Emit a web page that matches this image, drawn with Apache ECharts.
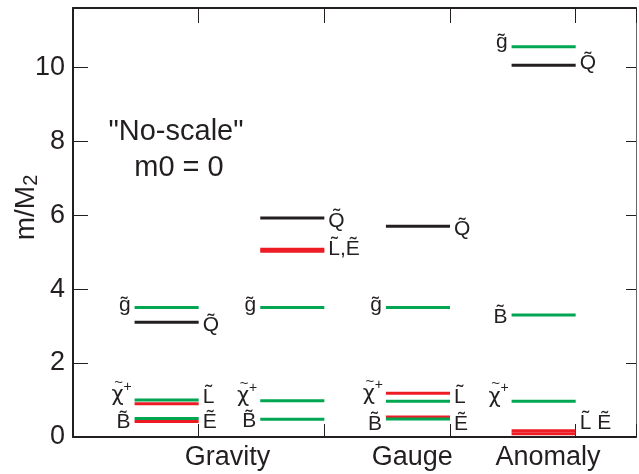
<!DOCTYPE html>
<html>
<head>
<meta charset="utf-8">
<script src="https://cdn.jsdelivr.net/npm/echarts@6/dist/echarts.min.js"></script>
<style>
  html, body { margin: 0; padding: 0; background: #fff; }
  #chart { width: 639px; height: 474px; }
</style>
</head>
<body>
<div id="chart"></div>
<script>
// Spectrum scenarios, each drawn as a column of short level lines ending at x = 1..4
const categories = ['Gravity', 'Gauge', 'Anomaly'];
const columnEnds = [1, 2, 3, 4];          // Gravity (two variants), Gauge, Anomaly
const levelLength = 0.51;                 // length of each level line in x units

// mass ratios m/M2 per column
const gluino   = [3.50, 3.50, 3.50, 10.55];   // g~
const squark   = [3.10, 5.92, 5.70, 10.05];   // Q~
const slepL    = [0.90, 5.08, 1.18, 0.17];    // L~
const slepE    = [0.42, 5.02, 0.54, 0.09];    // E~
const chargino = [1.00, 0.98, 0.97, 0.97];    // chi~+
const bino     = [0.50, 0.48, 0.49, 3.30];    // B~

const yTicks = [0, 2, 4, 6, 8, 10];
const categoryLabelAt = [1.23, 2.70, 3.78];

const GREEN = '#00a651', RED = '#ed1c24', BLACK = '#231f20';
const CHI = 'CHI';   // marker for the chargino symbol, drawn from separate glyphs

// label texts per column: [left label, right label]
const labelSet = {
  gluino:   [['g\u0303', ''], ['g\u0303', ''], ['g\u0303', ''], ['g\u0303', '']],
  squark:   [['', 'Q\u0303'], ['', 'Q\u0303'], ['', 'Q\u0303'], ['', 'Q\u0303']],
  slepL:    [['', 'L\u0303'], ['', 'L\u0303,\u1EBC'], [CHI, ''], ['', 'L\u0303 \u1EBC']],
  slepE:    [['B\u0303', '\u1EBC'], ['', ''], ['', ''], ['', '']],
  chargino: [[CHI, ''], [CHI, ''], ['', 'L\u0303'], [CHI, '']],
  bino:     [['', ''], ['B\u0303', ''], ['B\u0303', '\u1EBC'], ['B\u0303', '']]
};
// vertical nudges of the labels, px
const labelShift = {
  gluino: [-2, -2, -2, -5], squark: [3, 3, 3, -2],
  slepL: [-7, 0, 4, -8], slepE: [1, 0, 0, 0],
  chargino: [-1, -1, -4, -1], bino: [0, 2, 5, 2]
};

const levelGroups = [
  ['slepL', slepL, RED], ['slepE', slepE, RED],
  ['bino', bino, GREEN], ['chargino', chargino, GREEN],
  ['gluino', gluino, GREEN], ['squark', squark, BLACK]
];

const segments = [];
levelGroups.forEach(([name, values, color]) => {
  values.forEach((v, i) => {
    segments.push({
      x0: columnEnds[i] - levelLength, x1: columnEnds[i], y: v, color: color,
      left: labelSet[name][i][0], right: labelSet[name][i][1],
      shift: labelShift[name][i]
    });
  });
});

const TEXT_FONT = '"Liberation Sans", Arial, Helvetica, sans-serif';
const LABEL_FONT = '21px ' + TEXT_FONT;

function textEl(text, x, y, align, font) {
  return {
    type: 'text',
    style: { text: text, x: x, y: y, align: align, verticalAlign: 'middle', font: font, fill: BLACK }
  };
}

// chi with a tilde above and a superscript plus
function chiLabel(xRight, y) {
  const chiRight = xRight - 7;
  const chiCenter = chiRight - 6;
  return [
    textEl('+', xRight + 1, y - 12, 'right', '14px ' + TEXT_FONT),
    textEl('\u03C7', chiRight, y - 3, 'right', '21px "DejaVu Sans", ' + TEXT_FONT),
    textEl('~', chiCenter + 1, y - 16, 'center', '15px ' + TEXT_FONT)
  ];
}

const chart = echarts.init(document.getElementById('chart'), null, { renderer: 'canvas' });

const axisLine = { show: true, onZero: false, lineStyle: { color: BLACK, width: 2 } };
const option = {
  animation: false,
  backgroundColor: '#fff',
  grid: { left: 73, right: 3, top: 8, bottom: 37, outerBoundsMode: 'none', containLabel: false },
  xAxis: [
    {
      type: 'value', position: 'bottom', min: 0, max: 4.48, interval: 1,
      axisLine: axisLine,
      axisTick: { inside: true, length: 13, lineStyle: { color: BLACK, width: 1 } },
      axisLabel: { show: false }, splitLine: { show: false }
    },
    {
      type: 'value', position: 'top', min: 0, max: 4.48, interval: 1,
      axisLine: axisLine,
      axisTick: { inside: true, length: 15, lineStyle: { color: BLACK, width: 1 } },
      axisLabel: { show: false }, splitLine: { show: false }
    }
  ],
  yAxis: [
    {
      type: 'value', position: 'left', min: 0, max: 11.6, interval: 2,
      axisLine: axisLine,
      axisTick: { inside: true, length: 15, lineStyle: { color: BLACK, width: 1 } },
      axisLabel: {
        color: BLACK, fontFamily: TEXT_FONT, fontSize: 27, margin: 8,
        showMaxLabel: false,
        formatter: v => (yTicks.indexOf(v) >= 0 ? String(v) : '')
      },
      splitLine: { show: false },
      name: '{m|m/M}{s|2}', nameLocation: 'middle', nameGap: 32, nameRotate: 90,
      nameMoveOverlap: false,
      nameTextStyle: {
        padding: [0, 0, 0, 30],
        rich: {
          m: { fontFamily: TEXT_FONT, fontSize: 28, color: BLACK },
          s: { fontFamily: TEXT_FONT, fontSize: 20, color: BLACK, verticalAlign: 'bottom', padding: [10, 0, 0, 0] }
        }
      }
    },
    {
      type: 'value', position: 'right', min: 0, max: 11.6, interval: 2,
      axisLine: { show: true, onZero: false, lineStyle: { color: '#666', width: 1 } },
      axisTick: { inside: true, length: 10, lineStyle: { color: BLACK, width: 1 } },
      axisLabel: { show: false }, splitLine: { show: false }
    }
  ],
  series: [
    {
      type: 'custom',
      xAxisIndex: 0, yAxisIndex: 0,
      clip: false,
      data: segments.map(s => [s.x0, s.x1, s.y]),
      renderItem: function (params, api) {
        const s = segments[params.dataIndex];
        const p0 = api.coord([api.value(0), api.value(2)]);
        const p1 = api.coord([api.value(1), api.value(2)]);
        let children = [{
          type: 'line',
          shape: { x1: p0[0], y1: p0[1], x2: p1[0], y2: p1[1] },
          style: { stroke: s.color, lineWidth: 3 }
        }];
        if (s.left === CHI) {
          children = children.concat(chiLabel(p0[0] - 4, p0[1] + s.shift));
        } else if (s.left) {
          children.push(textEl(s.left, p0[0] - 4, p0[1] + s.shift, 'right', LABEL_FONT));
        }
        if (s.right) {
          children.push(textEl(s.right, p1[0] + 4, p1[1] + s.shift, 'left', LABEL_FONT));
        }
        return { type: 'group', children: children };
      }
    }
  ]
};
chart.setOption(option);

// scenario names beneath the axis and the annotation in the upper left
const graphics = categories.map((name, i) => {
  const p = chart.convertToPixel({ xAxisIndex: 0, yAxisIndex: 0 }, [categoryLabelAt[i], 0]);
  return {
    type: 'text', x: p[0], y: p[1] + 21,
    style: { text: name, font: '27px ' + TEXT_FONT, fill: BLACK, align: 'center', verticalAlign: 'middle' }
  };
});
graphics.push({
  type: 'text', x: 176, y: 132,
  style: { text: '"No-scale"', font: '29px ' + TEXT_FONT, fill: BLACK, align: 'center', verticalAlign: 'middle' }
});
graphics.push({
  type: 'text', x: 179, y: 168,
  style: { text: 'm0 = 0', font: '29px ' + TEXT_FONT, fill: BLACK, align: 'center', verticalAlign: 'middle' }
});
chart.setOption({ graphic: graphics });
</script>
</body>
</html>
